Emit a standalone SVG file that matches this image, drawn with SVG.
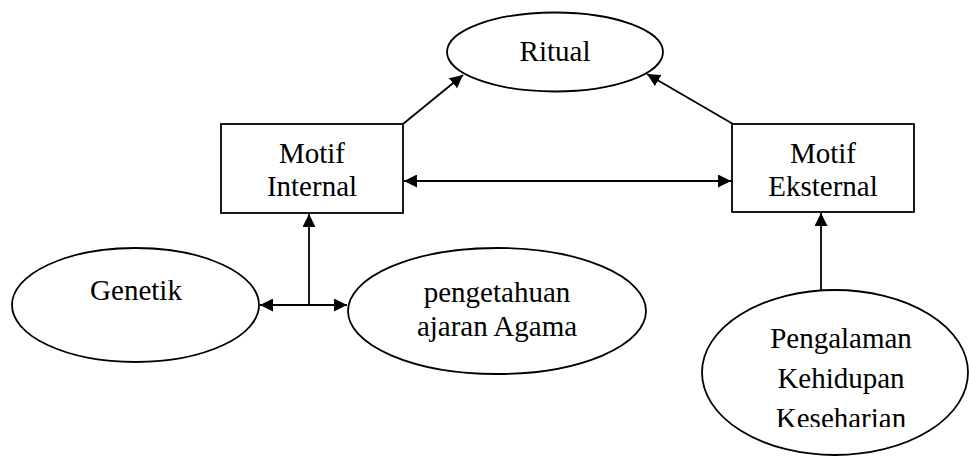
<svg xmlns="http://www.w3.org/2000/svg" width="969" height="456" viewBox="0 0 969 456">
<style>
.s{fill:#fff;stroke:#000;stroke-width:1.8}
.t{font-family:"Liberation Serif","Times New Roman",serif;font-size:29px;fill:#000;text-anchor:middle}
.c{fill:none;stroke:#000;stroke-width:1.8}
</style>
<defs>
<marker id="ah" viewBox="0 0 13 13" refX="13" refY="6.5" markerWidth="13" markerHeight="13" markerUnits="userSpaceOnUse" orient="auto-start-reverse">
<path d="M0,0 L13,6.5 L0,13 z" fill="#000"/>
</marker>
<clipPath id="kclip"><rect x="690" y="280" width="279" height="147"/></clipPath>
</defs>
<rect width="969" height="456" fill="#fff"/>
<g id="ritual">
<ellipse class="s" cx="555" cy="52" rx="108" ry="39.5"/>
<text class="t" x="555" y="61">Ritual</text>
</g>
<g id="motif-internal">
<rect class="s" x="221" y="124" width="182" height="89"/>
<text class="t" x="312" y="163">Motif</text>
<text class="t" x="312" y="196">Internal</text>
</g>
<g id="motif-eksternal">
<rect class="s" x="732" y="124" width="182" height="88"/>
<text class="t" x="823" y="163">Motif</text>
<text class="t" x="823" y="196">Eksternal</text>
</g>
<g id="genetik">
<ellipse class="s" cx="135.5" cy="305" rx="123.5" ry="57"/>
<text class="t" x="136" y="300">Genetik</text>
</g>
<g id="pengetahuan">
<ellipse class="s" cx="497" cy="311" rx="149" ry="63"/>
<text class="t" x="497" y="302">pengetahuan</text>
<text class="t" x="497" y="336">ajaran Agama</text>
</g>
<g id="pengalaman">
<ellipse class="s" cx="835" cy="372.5" rx="133" ry="82.5"/>
<g clip-path="url(#kclip)">
<text class="t" x="841" y="348">Pengalaman</text>
<text class="t" x="841" y="388">Kehidupan</text>
<text class="t" x="841" y="428">Keseharian</text>
</g>
</g>
<g id="connectors">
<line class="c" x1="403" y1="124" x2="463" y2="75" marker-end="url(#ah)"/>
<line class="c" x1="733" y1="124" x2="647" y2="74" marker-end="url(#ah)"/>
<line class="c" x1="404" y1="181" x2="731" y2="181" marker-start="url(#ah)" marker-end="url(#ah)"/>
<line class="c" x1="309" y1="305" x2="309" y2="214" marker-end="url(#ah)"/>
<line class="c" x1="260" y1="305" x2="347" y2="305" marker-start="url(#ah)" marker-end="url(#ah)"/>
<line class="c" x1="821" y1="290" x2="821" y2="213" marker-end="url(#ah)"/>
</g>
</svg>
